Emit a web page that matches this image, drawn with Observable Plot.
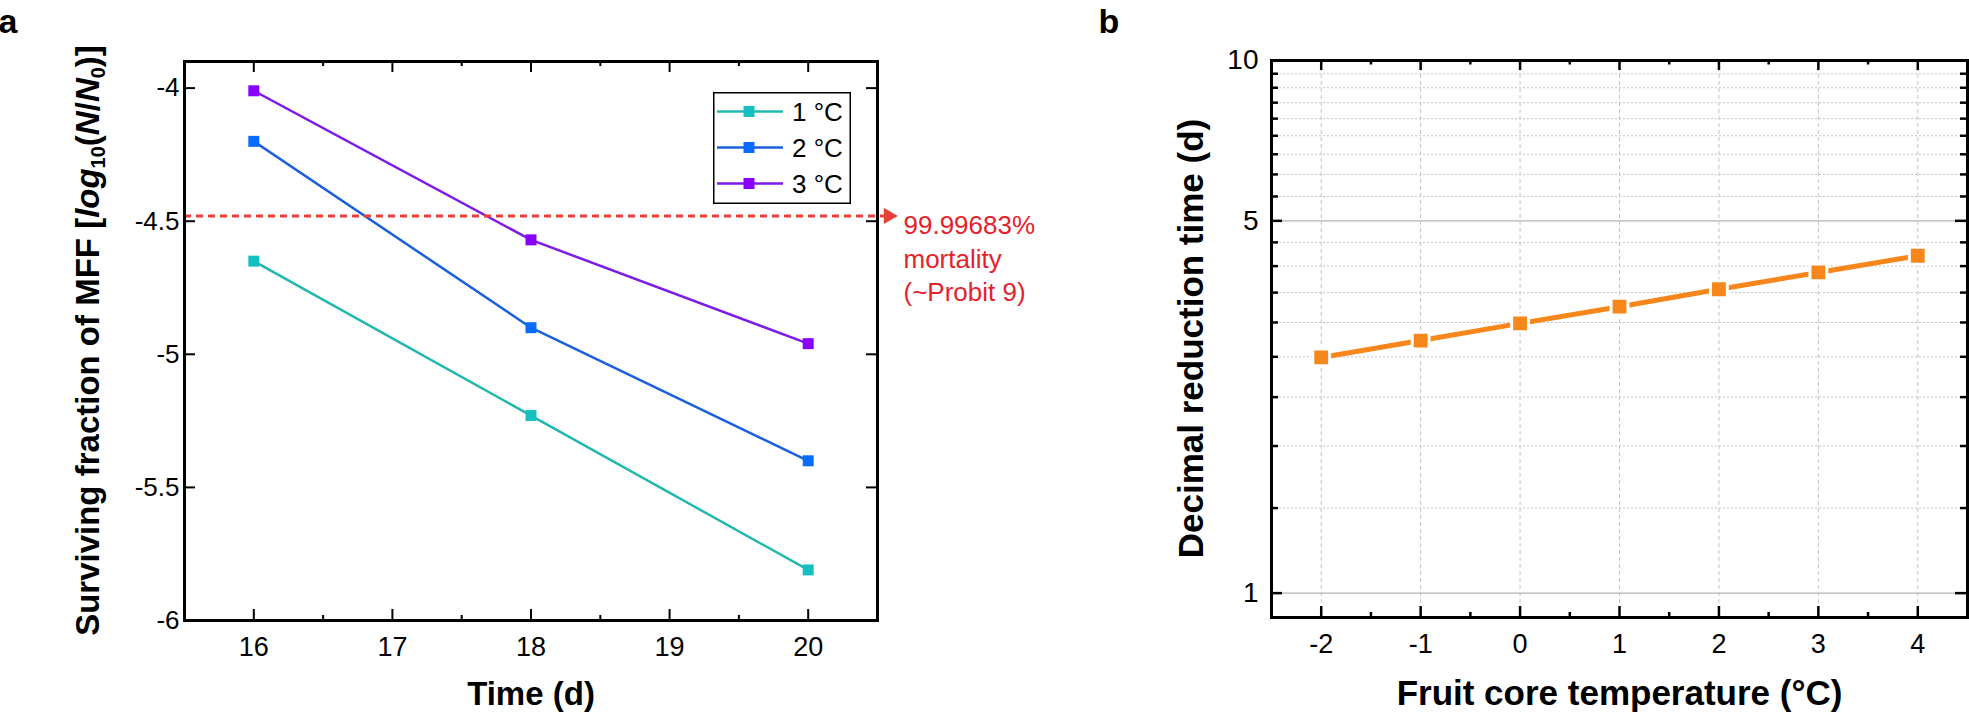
<!DOCTYPE html>
<html>
<head>
<meta charset="utf-8">
<script src="https://cdn.jsdelivr.net/npm/d3@7"></script>
<script src="https://cdn.jsdelivr.net/npm/@observablehq/plot@0.6"></script>
<style>
  html, body { margin: 0; padding: 0; background: #fff; overflow: hidden; }
  #wrap { position: relative; width: 1969px; height: 716px; font-family: "Liberation Sans", Arial, sans-serif; }
  #pa { position: absolute; left: 0; top: 0; width: 1100px; }
  #pb { position: absolute; left: 1100px; top: 0; width: 869px; }
  #legend { position: absolute; left: 713px; top: 92px; }
</style>
</head>
<body>
<div id="wrap">
  <div id="pa"></div>
  <div id="pb"></div>
  <div id="legend"></div>
</div>
<script>
// ---------- Panel a data ----------
const timeDays = [16, 18, 20];
const series1C = [-4.65, -5.23, -5.81];
const series2C = [-4.20, -4.90, -5.40];
const series3C = [-4.01, -4.57, -4.96];
const seriesLabels = ["1 °C", "2 °C", "3 °C"];
const lineColors = ["#22b8b0", "#1a60dc", "#7d1be8"];
const markerColors = ["#17c0c0", "#0a6cff", "#8a00ff"];
const probit9Level = -4.48;
const probit9Text = ["99.99683%", "mortality", "(~Probit 9)"];
const xTicksA = [16, 17, 18, 19, 20];
const xMinorA = [16.5, 17.5, 18.5, 19.5];
const yTicksA = [-4, -4.5, -5, -5.5, -6];

// ---------- Panel b data ----------
const coreTemps = [-2, -1, 0, 1, 2, 3, 4];
const decimalReduction = [2.77, 2.98, 3.21, 3.45, 3.72, 4.00, 4.30];
const xTicksB = [-2, -1, 0, 1, 2, 3, 4];
const xMinorB = [-1.5, -0.5, 0.5, 1.5, 2.5, 3.5];
const yMajorB = [1, 5, 10];
const minorPerInterval = 8;

const FONT = "'Liberation Sans', Arial, sans-serif";
const H = 716;

// ================= Panel a =================
const WA = 1100;
const mA = {top: 61, right: 1100 - 877, bottom: H - 620, left: 184};
const pwA = WA - mA.left - mA.right;
const phA = H - mA.top - mA.bottom;
const seriesValues = [series1C, series2C, series3C];
const rowsA = [];
seriesLabels.forEach((s, i) => timeDays.forEach((t, j) => rowsA.push({t, v: seriesValues[i][j], s})));

const marksA = [];
seriesLabels.forEach((s, i) => {
  const rows = rowsA.filter(r => r.s === s);
  marksA.push(Plot.line(rows, {x: "t", y: "v", stroke: lineColors[i], strokeWidth: 2.5}));
});
marksA.push(Plot.ruleY([probit9Level], {y: d => d, stroke: "#e8403a", strokeWidth: 3, strokeDasharray: "7,5", insetRight: -10}));
marksA.push(Plot.dot([probit9Level], {y: d => d, frameAnchor: "right", dx: 11, symbol: "triangle", rotate: 90, r: 6, fill: "#e8403a"}));
marksA.push(Plot.text([probit9Text.join("\n")], {y: () => probit9Level, text: d => d, frameAnchor: "right", dx: 26, dy: -6, textAnchor: "start", lineAnchor: "top", lineHeight: 1.3, fontSize: 26, fill: "#e4222b"}));
seriesLabels.forEach((s, i) => {
  const rows = rowsA.filter(r => r.s === s);
  marksA.push(Plot.dot(rows, {x: "t", y: "v", symbol: "square", r: 6.2, fill: markerColors[i]}));
});
// inward ticks
marksA.push(Plot.ruleY(yTicksA, {y: d => d, insetRight: pwA - 11, stroke: "black", strokeWidth: 2}));
marksA.push(Plot.ruleY(yTicksA, {y: d => d, insetLeft: pwA - 11, stroke: "black", strokeWidth: 2}));
marksA.push(Plot.ruleX(xTicksA, {x: d => d, insetTop: phA - 11, stroke: "black", strokeWidth: 2}));
marksA.push(Plot.ruleX(xMinorA, {x: d => d, insetTop: phA - 5, stroke: "black", strokeWidth: 2}));
marksA.push(Plot.ruleX(xTicksA, {x: d => d, insetBottom: phA - 11, stroke: "black", strokeWidth: 2}));
marksA.push(Plot.ruleX(xMinorA, {x: d => d, insetBottom: phA - 5, stroke: "black", strokeWidth: 2}));
marksA.push(Plot.frame({stroke: "black", strokeWidth: 3}));
marksA.push(Plot.axisX(xTicksA, {tickSize: 0, tickPadding: 16, fontSize: 27, label: null, tickFormat: d => String(d)}));
marksA.push(Plot.axisY(yTicksA, {tickSize: 0, tickPadding: 5, fontSize: 26, label: null, tickFormat: d => String(d)}));
marksA.push(Plot.text(["Time (d)"], {frameAnchor: "bottom", dy: 74, text: d => d, fontSize: 33, fontWeight: "bold", lineAnchor: "middle"}));

const plotA = Plot.plot({
  width: WA, height: H,
  marginTop: mA.top, marginRight: mA.right, marginBottom: mA.bottom, marginLeft: mA.left,
  x: {domain: [15.5, 20.5]},
  y: {domain: [-6, -3.9]},
  style: {fontFamily: FONT, color: "black", background: "white", fontSize: "26px"},
  marks: marksA
});
document.getElementById("pa").appendChild(plotA);
const svgA = d3.select(plotA.tagName.toLowerCase() === "svg" ? plotA : plotA.querySelector("svg"));
svgA.append("text").attr("x", 8).attr("y", 33).attr("font-size", 34).attr("font-weight", "bold")
  .attr("font-family", FONT).attr("fill", "black").text("a");
const ta = svgA.append("text").attr("transform", "translate(99,340.5) rotate(-90)")
  .attr("text-anchor", "middle").attr("font-size", 33).attr("font-weight", "bold")
  .attr("font-family", FONT).attr("fill", "black");
ta.append("tspan").text("Surviving fraction of MFF [");
ta.append("tspan").attr("font-style", "italic").text("log");
ta.append("tspan").attr("font-size", 20).attr("dy", 6).text("10");
ta.append("tspan").attr("dy", -6).text("(");
ta.append("tspan").attr("font-style", "italic").text("N");
ta.append("tspan").text("/");
ta.append("tspan").attr("font-style", "italic").text("N");
ta.append("tspan").attr("font-size", 20).attr("dy", 6).text("0");
ta.append("tspan").attr("dy", -6).text(")]");

// Legend
const lg = d3.select("#legend").append("svg").attr("width", 138).attr("height", 112)
  .style("display", "block").style("overflow", "visible");
lg.append("rect").attr("x", 0.75).attr("y", 0.75).attr("width", 136.5).attr("height", 110.5)
  .attr("fill", "white").attr("stroke", "black").attr("stroke-width", 1.5);
seriesLabels.forEach((s, i) => {
  const cy = 19.5 + i * 36;
  lg.append("line").attr("x1", 4).attr("x2", 70).attr("y1", cy).attr("y2", cy)
    .attr("stroke", lineColors[i]).attr("stroke-width", 2.5);
  lg.append("rect").attr("x", 36 - 5.5).attr("y", cy - 5.5).attr("width", 11).attr("height", 11)
    .attr("fill", markerColors[i]);
  lg.append("text").attr("x", 79).attr("y", cy + 9).attr("font-size", 26)
    .attr("font-family", FONT).attr("fill", "black").text(s);
});

// ================= Panel b =================
const WB = 869;
const mB = {top: 60, right: 2, bottom: H - 617, left: 171};
const pwB = WB - mB.left - mB.right;
const phB = H - mB.top - mB.bottom;
const rowsB = coreTemps.map((t, i) => ({t, d: decimalReduction[i]}));
const minorB = [];
for (let i = 0; i < yMajorB.length - 1; i++) {
  const a = yMajorB[i], b = yMajorB[i + 1];
  for (let k = 1; k <= minorPerInterval; k++) minorB.push(a + k * (b - a) / (minorPerInterval + 1));
}

const plotB = Plot.plot({
  width: WB, height: H,
  marginTop: mB.top, marginRight: mB.right, marginBottom: mB.bottom, marginLeft: mB.left,
  x: {domain: [-2.5, 4.5]},
  y: {type: "log", domain: [0.9, 10]},
  style: {fontFamily: FONT, color: "black", background: "white", fontSize: "27px"},
  marks: [
    Plot.ruleX(xTicksB, {x: d => d, stroke: "#c4c4c4", strokeWidth: 1, strokeDasharray: "4,3"}),
    Plot.ruleY(minorB, {y: d => d, stroke: "#c4c4c4", strokeWidth: 1, strokeDasharray: "2,2"}),
    Plot.ruleY([1, 5], {y: d => d, stroke: "#b4b4b4", strokeWidth: 1.2}),
    Plot.line(rowsB, {x: "t", y: "d", stroke: "#f7871b", strokeWidth: 5}),
    Plot.dot(rowsB, {x: "t", y: "d", symbol: "square", r: 9.5, fill: "#f7871b", stroke: "white", strokeWidth: 3}),
    Plot.ruleY(yMajorB, {y: d => d, insetRight: pwB - 11, stroke: "black", strokeWidth: 2.5}),
    Plot.ruleY(minorB, {y: d => d, insetRight: pwB - 7, stroke: "black", strokeWidth: 2.5}),
    Plot.ruleY(yMajorB, {y: d => d, insetLeft: pwB - 12, stroke: "black", strokeWidth: 2.5}),
    Plot.ruleY(minorB, {y: d => d, insetLeft: pwB - 7, stroke: "black", strokeWidth: 2.5}),
    Plot.ruleX(xTicksB, {x: d => d, insetTop: phB - 11, stroke: "black", strokeWidth: 2.5}),
    Plot.ruleX(xMinorB, {x: d => d, insetTop: phB - 5, stroke: "black", strokeWidth: 2.5}),
    Plot.ruleX(xTicksB, {x: d => d, insetBottom: phB - 10, stroke: "black", strokeWidth: 2.5}),
    Plot.ruleX(xMinorB, {x: d => d, insetBottom: phB - 4.5, stroke: "black", strokeWidth: 2.5}),
    Plot.frame({stroke: "black", strokeWidth: 3}),
    Plot.axisX(xTicksB, {tickSize: 0, tickPadding: 16, fontSize: 27, label: null, tickFormat: d => String(d)}),
    Plot.axisY(yMajorB, {tickSize: 0, tickPadding: 13, fontSize: 28, label: null, tickFormat: d => String(d)}),
    Plot.text(["Fruit core temperature (°C)"], {frameAnchor: "bottom", dy: 76, text: d => d, fontSize: 35, fontWeight: "bold", lineAnchor: "middle"})
  ]
});
document.getElementById("pb").appendChild(plotB);
const svgB = d3.select(plotB.tagName.toLowerCase() === "svg" ? plotB : plotB.querySelector("svg"));
svgB.append("text").attr("x", 9).attr("y", 33).attr("font-size", 34).attr("font-weight", "bold")
  .attr("font-family", FONT).attr("fill", "black").text("b");
svgB.append("text").attr("transform", "translate(103,338.5) rotate(-90)")
  .attr("text-anchor", "middle").attr("font-size", 35).attr("font-weight", "bold")
  .attr("font-family", FONT).attr("fill", "black").text("Decimal reduction time (d)");
</script>
</body>
</html>
